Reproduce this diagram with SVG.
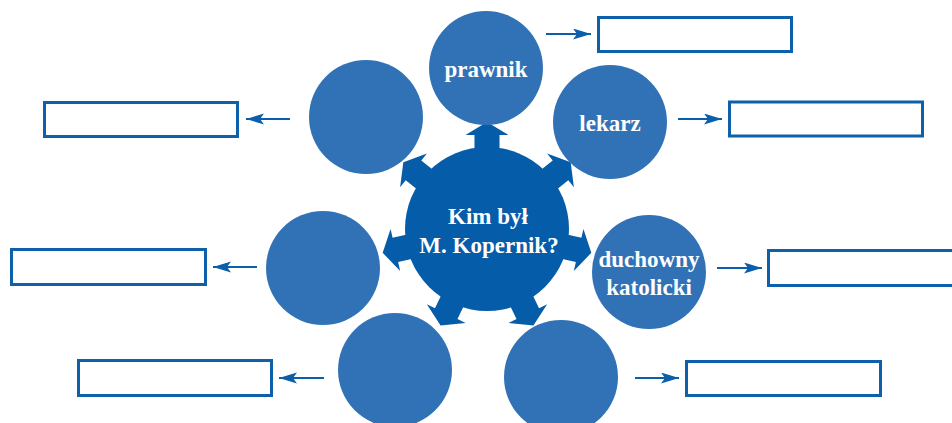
<svg xmlns="http://www.w3.org/2000/svg" xmlns:xlink="http://www.w3.org/1999/xlink" width="952" height="423" viewBox="0 0 952 423">
<style>
.hub{fill:#055ca9}
.sat{fill:#3172b7}
.box{fill:#ffffff;stroke:#0f60ab;stroke-width:3}
.lbl{font-family:"Liberation Serif","Times New Roman",serif;font-weight:bold;font-size:23px;fill:#ffffff;text-anchor:middle}
.con{stroke:#0b5ea9;stroke-width:2;fill:none;marker-end:url(#ah)}
</style>
<defs>
<marker id="ah" markerUnits="userSpaceOnUse" markerWidth="18" markerHeight="12" refX="18" refY="5.5" orient="auto">
<path d="M0,0 L18,5.5 L0,11 L4,5.5 z" fill="#0b5ea9"/>
</marker>
<polygon id="spoke" points="70,-12.5 94,-12.5 94,-21.5 107,0 94,21.5 94,12.5 70,12.5"/>
</defs>
<rect width="952" height="423" fill="#ffffff"/>

<g id="hub" class="hub">
<circle cx="487" cy="229" r="82"/>
<use xlink:href="#spoke" transform="translate(487,229) rotate(-90)"/>
<use xlink:href="#spoke" transform="translate(487,229) rotate(-38.571)"/>
<use xlink:href="#spoke" transform="translate(487,229) rotate(12.857)"/>
<use xlink:href="#spoke" transform="translate(487,229) rotate(64.286)"/>
<use xlink:href="#spoke" transform="translate(487,229) rotate(115.714)"/>
<use xlink:href="#spoke" transform="translate(487,229) rotate(167.143)"/>
<use xlink:href="#spoke" transform="translate(487,229) rotate(218.571)"/>
<text class="lbl" x="488" y="224">Kim był</text>
<text class="lbl" x="489" y="253">M. Kopernik?</text>
</g>

<g id="n-prawnik"><circle class="sat" cx="486" cy="68" r="57"/><text class="lbl" x="486" y="77">prawnik</text></g>
<g id="n-lekarz"><circle class="sat" cx="610" cy="122" r="57"/><text class="lbl" x="610" y="131">lekarz</text></g>
<g id="n-duchowny"><circle class="sat" cx="649" cy="272" r="57"/><text class="lbl" x="649" y="267">duchowny</text><text class="lbl" x="649" y="295">katolicki</text></g>
<g id="n-bottom-right"><circle class="sat" cx="561" cy="377" r="57"/></g>
<g id="n-bottom-left"><circle class="sat" cx="395" cy="370" r="57"/></g>
<g id="n-left"><circle class="sat" cx="323" cy="268" r="57"/></g>
<g id="n-upper-left"><circle class="sat" cx="366" cy="117" r="57"/></g>

<g id="b-prawnik"><rect class="box" x="598.5" y="17.5" width="193" height="34"/></g>
<g id="b-lekarz"><rect class="box" x="729.5" y="102" width="193" height="34"/></g>
<g id="b-duchowny"><rect class="box" x="768.5" y="250.5" width="193" height="35"/></g>
<g id="b-bottom-right"><rect class="box" x="686.5" y="361.5" width="194" height="34"/></g>
<g id="b-upper-left"><rect class="box" x="44.5" y="102.5" width="193" height="34"/></g>
<g id="b-left"><rect class="box" x="11.5" y="249.5" width="194" height="35"/></g>
<g id="b-bottom-left"><rect class="box" x="78.5" y="360.5" width="193" height="35"/></g>

<g id="connectors">
<line class="con" x1="546" y1="34" x2="591" y2="34"/>
<line class="con" x1="678" y1="119" x2="722" y2="119"/>
<line class="con" x1="717" y1="268" x2="762" y2="268"/>
<line class="con" x1="635" y1="378" x2="679" y2="378"/>
<line class="con" x1="290" y1="119" x2="246" y2="119"/>
<line class="con" x1="257" y1="267" x2="213" y2="267"/>
<line class="con" x1="324" y1="378" x2="279" y2="378"/>
</g>
</svg>
